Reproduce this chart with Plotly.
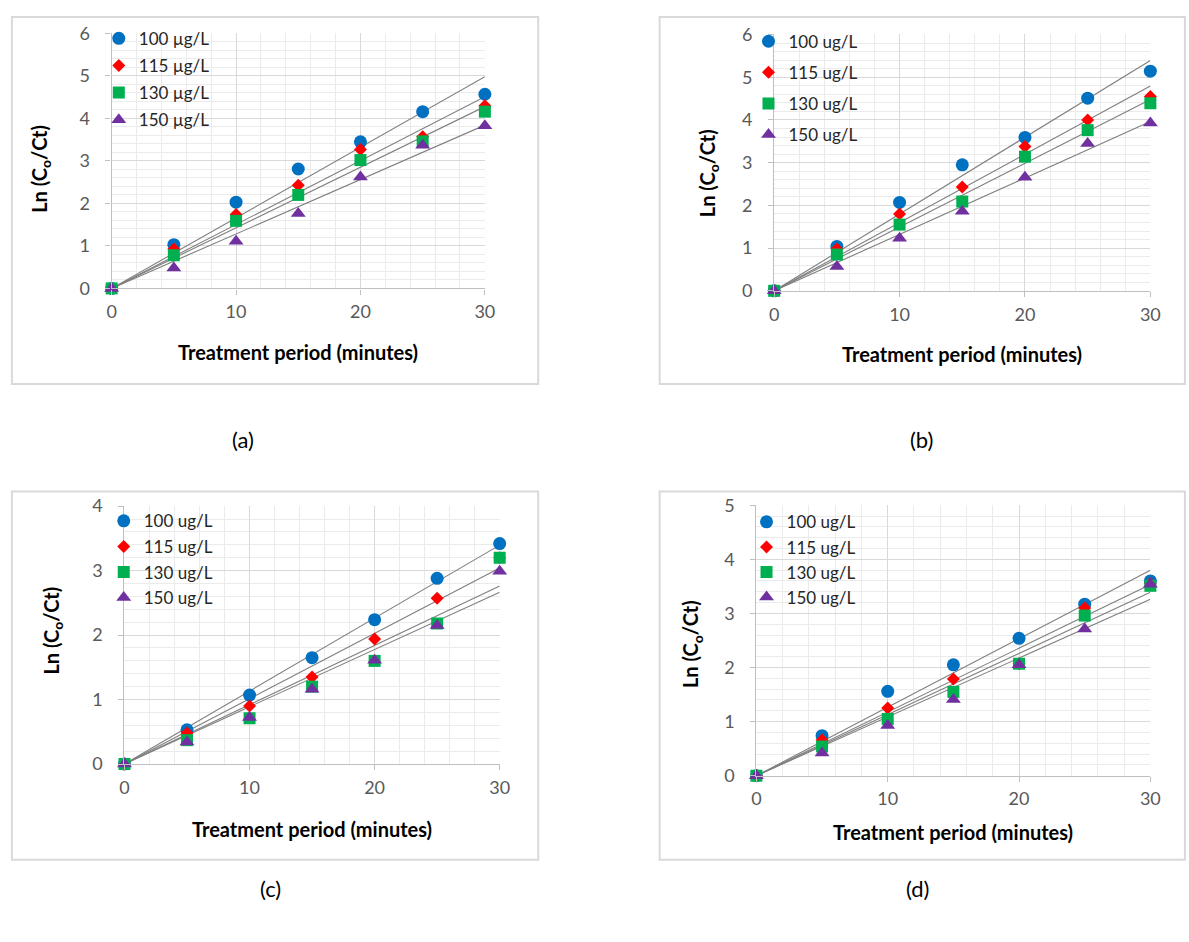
import numpy as np
import plotly.graph_objects as go

# ---------------- data ----------------
time_min = [0, 5, 10, 15, 20, 25, 30]

labels_a = ["100 µg/L", "115 µg/L", "130 µg/L", "150 µg/L"]
labels_bcd = ["100 ug/L", "115 ug/L", "130 ug/L", "150 ug/L"]

# panel (a)
a_100 = [0, 1.03, 2.03, 2.81, 3.45, 4.16, 4.57]
a_115 = [0, 0.93, 1.74, 2.43, 3.27, 3.57, 4.30]
a_130 = [0, 0.78, 1.59, 2.20, 3.02, 3.46, 4.16]
a_150 = [0, 0.48, 1.11, 1.76, 2.62, 3.37, 3.83]

# panel (b)
b_100 = [0, 1.04, 2.07, 2.95, 3.59, 4.51, 5.14]
b_115 = [0, 0.98, 1.80, 2.43, 3.38, 4.00, 4.55]
b_130 = [0, 0.85, 1.55, 2.09, 3.14, 3.76, 4.39]
b_150 = [0, 0.57, 1.23, 1.86, 2.66, 3.45, 3.93]

# panel (c)
c_100 = [0, 0.53, 1.07, 1.65, 2.24, 2.88, 3.42]
c_115 = [0, 0.48, 0.90, 1.35, 1.94, 2.57, 3.20]
c_130 = [0, 0.37, 0.71, 1.20, 1.60, 2.18, 3.20]
c_150 = [0, 0.34, 0.72, 1.16, 1.61, 2.15, 2.99]

# panel (d)
d_100 = [0, 0.74, 1.56, 2.05, 2.54, 3.17, 3.60]
d_115 = [0, 0.66, 1.25, 1.79, 2.07, 3.10, 3.55]
d_130 = [0, 0.54, 1.05, 1.55, 2.07, 2.96, 3.51]
d_150 = [0, 0.42, 0.93, 1.41, 2.05, 2.71, 3.54]

x_ticks = [0, 10, 20, 30]
captions = ["(a)", "(b)", "(c)", "(d)"]
x_title = "Treatment period (minutes)"
y_title = "Ln (C<sub>o</sub>/Ct)"

# ---------------- styling ----------------
W, H = 1189, 942
FONT = "Lato, Carlito, Calibri, 'Open Sans', sans-serif"
colors = ["#0070C0", "#FF0000", "#00B050", "#7030A0"]
symbols = ["circle", "diamond", "square", "triangle-up"]
msizes = [13, 10, 12, 13]


def fx(px):
    return px / W


def fy(py):
    return 1 - py / H


panels = [
    dict(series=[a_100, a_115, a_130, a_150], labels=labels_a, ymax=6,
         x0=108, x1=486, y0=283, y1=22, frame=(7, 5, 540, 381),
         xt=(297, 348), yt=(36, 161), cap=(241, 438),
         leg=(95, 9), gap=2),
    dict(series=[b_100, b_115, b_130, b_150], labels=labels_bcd, ymax=6,
         x0=779, x1=1160, y0=285.5, y1=23, frame=(663, 5, 1195, 381),
         xt=(969, 350), yt=(712, 165), cap=(928, 438),
         leg=(753, 12), gap=6),
    dict(series=[c_100, c_115, c_130, c_150], labels=labels_bcd, ymax=4,
         x0=121, x1=501, y0=770, y1=506, frame=(7, 491, 540, 868),
         xt=(311, 837), yt=(48, 633), cap=(269, 897),
         leg=(100, 503), gap=0.5),
    dict(series=[d_100, d_115, d_130, d_150], labels=labels_bcd, ymax=5,
         x0=761, x1=1160, y0=782, y1=505, frame=(663, 491, 1195, 868),
         xt=(960, 840), yt=(696, 647), cap=(924, 897),
         leg=(751, 504), gap=0),
]

fig = go.Figure()
annotations = []
shapes = []
t = np.array(time_min, dtype=float)

for i, p in enumerate(panels):
    k = "" if i == 0 else str(i + 1)
    xa, ya = "x" + k, "y" + k
    leg = "legend" + k
    # linear trend lines through origin (least squares on the data)
    for j, vals in enumerate(p["series"]):
        v = np.array(vals, dtype=float)
        slope = float(np.sum(t * v) / np.sum(t * t))
        xs = [0, 30]
        fig.add_trace(go.Scatter(
            x=xs, y=[slope * xv for xv in xs], mode="lines",
            line=dict(color="#7f7f7f", width=1.1), showlegend=False,
            hoverinfo="skip", xaxis=xa, yaxis=ya))
    # scatter points
    for j, (vals, lab) in enumerate(zip(p["series"], p["labels"])):
        fig.add_trace(go.Scatter(
            x=time_min, y=vals, mode="markers", name=lab,
            marker=dict(symbol=symbols[j], color=colors[j], size=msizes[j]),
            xaxis=xa, yaxis=ya, legend=leg, legendgroup=f"g{i}{j}",
            cliponaxis=False, showlegend=True))

    axis_common = dict(
        showgrid=True, gridcolor="#d9d9d9", gridwidth=1.3,
        showline=True, linecolor="#bfbfbf", linewidth=1.3,
        ticks="outside", ticklen=5, tickcolor="#bfbfbf", tickwidth=1.3,
        zeroline=False,
        tickfont=dict(family=FONT, size=18, color="#595959"),
        fixedrange=True,
    )
    fig.layout["xaxis" + k] = dict(
        axis_common, domain=[fx(p["x0"]), fx(p["x1"])], range=[0, 30],
        tickvals=x_ticks, anchor=ya, ticklabelstandoff=2,
        minor=dict(dtick=2, tick0=0, showgrid=True, gridcolor="#ebebeb",
                   gridwidth=1, ticks=""))
    fig.layout["yaxis" + k] = dict(
        axis_common, domain=[fy(p["y0"]), fy(p["y1"])], range=[0, p["ymax"]],
        dtick=1, tick0=0, anchor=xa, ticklabelstandoff=12,
        minor=dict(dtick=0.2, tick0=0, showgrid=True, gridcolor="#ebebeb",
                   gridwidth=1, ticks=""))

    fig.layout[leg] = dict(
        x=fx(p["leg"][0]), y=fy(p["leg"][1]), xanchor="left", yanchor="top",
        bgcolor="rgba(0,0,0,0)", traceorder="grouped",
        tracegroupgap=p["gap"],
        font=dict(family=FONT, size=17, color="#262626"))

    # frame
    fx0, fy0, fx1, fy1 = p["frame"]
    shapes.append(dict(type="rect", xref="paper", yref="paper",
                       x0=fx(fx0), x1=fx(fx1), y0=fy(fy1), y1=fy(fy0),
                       line=dict(color="#d9d9d9", width=2), layer="below"))
    # axis titles
    annotations.append(dict(text="<b>" + x_title + "</b>", xref="paper",
                            yref="paper", x=fx(p["xt"][0]), y=fy(p["xt"][1]),
                            showarrow=False, xanchor="center", yanchor="middle",
                            font=dict(family=FONT, size=20, color="#000000")))
    annotations.append(dict(text="<b>" + y_title + "</b>", xref="paper",
                            yref="paper", x=fx(p["yt"][0]), y=fy(p["yt"][1]),
                            showarrow=False, textangle=-90,
                            xanchor="center", yanchor="middle",
                            font=dict(family=FONT, size=20, color="#000000")))
    # caption
    annotations.append(dict(text=captions[i], xref="paper", yref="paper",
                            x=fx(p["cap"][0]), y=fy(p["cap"][1]),
                            showarrow=False, xanchor="center", yanchor="middle",
                            font=dict(family=FONT, size=22, color="#000000")))

fig.update_layout(
    width=W, height=H, margin=dict(l=0, r=0, t=0, b=0),
    paper_bgcolor="white", plot_bgcolor="white",
    annotations=annotations, shapes=shapes,
    font=dict(family=FONT),
)

fig.write_html("out.html",
               config={"displayModeBar": False},
               post_script="document.body.style.margin='0px';")
